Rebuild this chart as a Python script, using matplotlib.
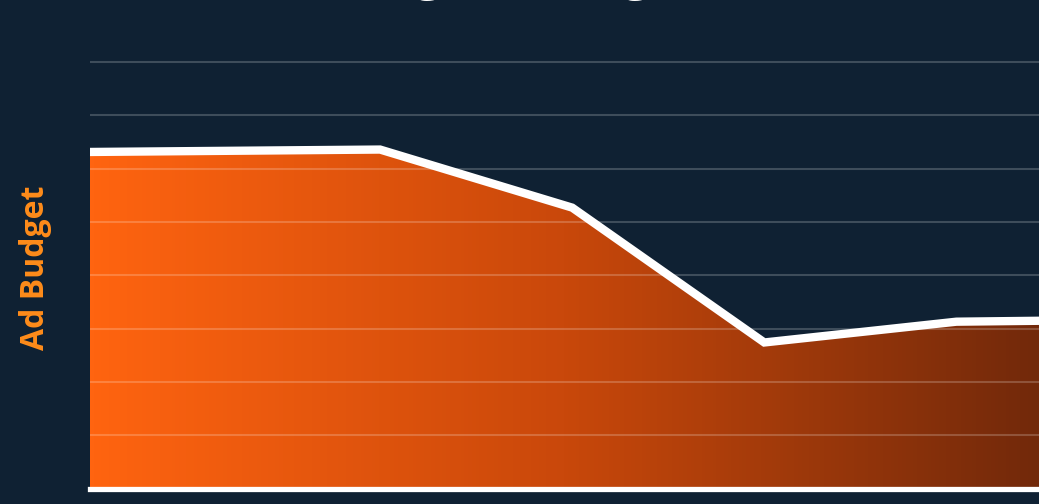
import numpy as np
import matplotlib.pyplot as plt
from matplotlib.colors import LinearSegmentedColormap
from matplotlib.patches import PathPatch

# ad budget per period (thousands)
periods = [0, 1, 2, 3, 4, 5, 6]
budget = [6.30, 6.33, 6.36, 5.27, 2.74, 3.13, 3.17]
title = "Budget Changes Over Time"
ylabel = "Ad Budget"

bg = "#0f2133"
grad = LinearSegmentedColormap.from_list("grad", ["#ff6410", "#c9480b", "#72290a"])

fig = plt.figure(figsize=(10.39, 5.04), dpi=100, facecolor=bg)
W, H = 1039.0, 504.0
ax = fig.add_axes([90 / W, 15.5 / H, 949 / W, 453 / H])
ax.set_facecolor(bg)

ax.set_xlim(0.49, 5.43)
ax.set_ylim(0, 8.5)

# gradient area, clipped to the fill polygon
x = np.array(periods, dtype=float)
y = np.array(budget)
poly = ax.fill_between(x, 0, y, color="none", lw=0)
clip = poly.get_paths()[0]
img = ax.imshow(np.linspace(0, 1, 256).reshape(1, -1), cmap=grad, aspect="auto",
                extent=[0.49, 5.43, 0, 8.5], zorder=1)
pp = PathPatch(clip, transform=ax.transData, facecolor="none", edgecolor="none")
ax.add_patch(pp)
img.set_clip_path(pp)

ax.set_yticks(np.arange(1, 9))
ax.grid(axis="y", color="white", alpha=0.2, lw=1.5)
ax.set_axisbelow(False)
for g in ax.get_ygridlines():
    g.set_zorder(2)

ax.plot(x, y, color="white", lw=6, zorder=3, solid_joinstyle="miter")

for s in ["top", "right", "left"]:
    ax.spines[s].set_visible(False)
ax.spines["bottom"].set_color("white")
ax.spines["bottom"].set_linewidth(3.8)
ax.spines["bottom"].set_zorder(4)
ax.tick_params(left=False, labelleft=False, bottom=False, labelbottom=False)

fig.text(36 / W, 1 - 268 / H, ylabel, rotation=90, ha="center", va="center",
         color="#ff8c1a", fontsize=23, fontweight="bold", family="Open Sans")
fig.text(640 / W, 1 - (-22.5) / H, title, ha="center", va="center",
         color="white", fontsize=34, fontweight="bold", family="Open Sans")

fig.savefig("out.png", dpi=100, facecolor=bg)
